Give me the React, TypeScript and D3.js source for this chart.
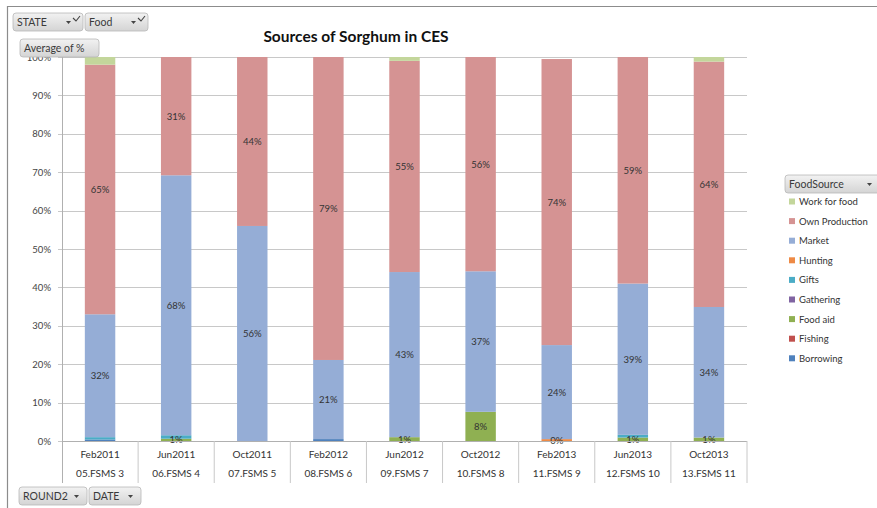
import React from "react";
import * as d3 from "d3";

// Survey rounds (two-level category axis)
const dates = ["Feb2011", "Jun2011", "Oct2011", "Feb2012", "Jun2012", "Oct2012", "Feb2013", "Jun2013", "Oct2013"];
const rounds = ["05.FSMS 3", "06.FSMS 4", "07.FSMS 5", "08.FSMS 6", "09.FSMS 7", "10.FSMS 8", "11.FSMS 9", "12.FSMS 10", "13.FSMS 11"];

// Stacking order, bottom to top
const sources = ["Borrowing", "Fishing", "Food aid", "Gathering", "Gifts", "Hunting", "Market", "Own Production", "Work for food"];
const sourceColors = ["#4F81BD", "#C0504D", "#8FB052", "#8064A2", "#4BACC6", "#EE8A45", "#95ADD6", "#D59393", "#C3D69B"];

// Average share (%) per source, one array per source, in round order
const borrowing = [0.4, 0, 0, 0.5, 0, 0, 0, 0, 0];
const fishing = [0, 0, 0, 0, 0, 0, 0, 0, 0];
const foodAid = [0, 0.6, 0, 0, 1.0, 7.6, 0, 0.9, 0.9];
const gathering = [0, 0, 0, 0, 0, 0, 0, 0, 0];
const gifts = [0.6, 0.9, 0, 0, 0, 0, 0, 0.7, 0];
const hunting = [0, 0, 0, 0, 0, 0, 0.49, 0, 0];
const market = [32.0, 67.7, 56.0, 20.6, 43.0, 36.6, 24.49, 39.4, 34.0];
const ownProduction = [65.0, 30.8, 44.0, 78.9, 55.0, 55.8, 74.49, 59.0, 63.9];
const workForFood = [2.0, 0, 0, 0, 1.0, 0, 0, 0, 1.2];

const seriesValues = [borrowing, fishing, foodAid, gathering, gifts, hunting, market, ownProduction, workForFood];
// Series that carry data labels
const labelledSeries = ["Food aid", "Hunting", "Market", "Own Production"];

const yTicks = [0, 10, 20, 30, 40, 50, 60, 70, 80, 90, 100];

const FONT = "Lato, 'Open Sans', sans-serif";

function FieldButton({ x, y, w, label, arrow = true, filter = false }: { x: number; y: number; w: number; label: string; arrow?: boolean; filter?: boolean }) {
  const h = 18;
  return (
    <g>
      <rect x={x} y={y} width={w} height={h} rx={3} fill="url(#btnGrad)" stroke="#b8b8b8" strokeWidth={0.8} />
      <text x={x + 4} y={y + 13} fontSize={10.5} fill="#3a3a3a" fontFamily={FONT}>{label}</text>
      {arrow && <path d={`M${x + w - (filter ? 17 : 13)},${y + 8} l5,0 l-2.5,3 z`} fill="#444" />}
      {filter && (
        <path d={`M${x + w - 10},${y + 5} l3,3 l4,-5`} fill="none" stroke="#444" strokeWidth={1.1} />
      )}
    </g>
  );
}

export default function App() {
  const width = 877;
  const height = 508;
  const x0 = 62, x1 = 747, yTop = 57, yBot = 441, axisBottom = 483;

  const x = d3.scaleBand<string>().domain(dates).range([x0, x1]).paddingInner(0.6).paddingOuter(0.3);
  const y = d3.scaleLinear().domain([0, 100]).range([yBot, yTop]);
  const step = x.step();

  const rows = dates.map((d, i) => {
    const r: Record<string, any> = { date: d };
    sources.forEach((s, k) => (r[s] = seriesValues[k][i]));
    return r;
  });
  const stacked = d3.stack<Record<string, any>>().keys(sources)(rows);

  const legendY0 = 202;
  const legendStep = 19.6;
  const legendOrder = [...sources].reverse();

  return (
    <svg width={width} height={height} style={{ position: "absolute", left: 0, top: 0 }}>
      <defs>
        <linearGradient id="btnGrad" x1="0" y1="0" x2="0" y2="1">
          <stop offset="0%" stopColor="#f2f2f2" />
          <stop offset="100%" stopColor="#d4d4d4" />
        </linearGradient>
      </defs>
      <rect width={width} height={height} fill="#ffffff" />
      {/* chart frame */}
      <line x1={7} y1={6.5} x2={width} y2={6.5} stroke="#8c8c8c" strokeWidth={1.2} />
      <line x1={7.5} y1={6} x2={7.5} y2={height} stroke="#8c8c8c" strokeWidth={1.2} />

      {/* gridlines */}
      {yTicks.map((t) => (
        <line key={t} x1={x0 - 4} x2={x1} y1={Math.round(y(t)) + 0.5} y2={Math.round(y(t)) + 0.5} stroke="#c8c8c8" strokeWidth={1} />
      ))}
      {yTicks.map((t) => (
        <text key={"l" + t} x={51} y={y(t) + 3.5} textAnchor="end" fontSize={9.5} fill="#444" fontFamily={FONT}>{t}%</text>
      ))}

      {/* bars */}
      {stacked.map((layer, k) => (
        <g key={layer.key} fill={sourceColors[k]}>
          {layer.map((seg, i) => {
            const h = y(seg[0]) - y(seg[1]);
            if (h <= 0) return null;
            return <rect key={i} x={x(dates[i])} y={y(seg[1])} width={x.bandwidth()} height={h} />;
          })}
        </g>
      ))}

      {/* data labels */}
      {stacked.map((layer, k) =>
        labelledSeries.includes(layer.key)
          ? layer.map((seg, i) => {
              const v = seriesValues[k][i];
              if (v <= 0) return null;
              return (
                <text
                  key={layer.key + i}
                  x={(x(dates[i]) as number) + x.bandwidth() / 2}
                  y={y((seg[0] + seg[1]) / 2) + 3.5}
                  textAnchor="middle"
                  fontSize={9.5}
                  fill="#333"
                  fontFamily={FONT}
                >
                  {Math.round(v)}%
                </text>
              );
            })
          : null
      )}

      {/* axes */}
      <line x1={x0 + 0.5} x2={x0 + 0.5} y1={yTop} y2={axisBottom} stroke="#b0b0b0" strokeWidth={1} />
      <line x1={x0} x2={x1} y1={yBot + 0.5} y2={yBot + 0.5} stroke="#b0b0b0" strokeWidth={1} />
      {dates.map((d, i) => (
        <line key={"sep" + i} x1={x0 + step * (i + 1)} x2={x0 + step * (i + 1)} y1={yBot} y2={axisBottom} stroke="#c8c8c8" strokeWidth={1} />
      ))}
      {dates.map((d, i) => (
        <g key={"cat" + i} fontFamily={FONT} fontSize={10} fill="#333" textAnchor="middle">
          <text x={x0 + step * (i + 0.5)} y={458}>{d}</text>
          <text x={x0 + step * (i + 0.5)} y={477}>{rounds[i]}</text>
        </g>
      ))}

      {/* title */}
      <text x={356} y={42} textAnchor="middle" fontSize={15.5} fontWeight="bold" fill="#111" fontFamily={FONT}>
        Sources of Sorghum in CES
      </text>

      {/* legend */}
      <FieldButton x={785} y={175} w={95} label="FoodSource" />
      {legendOrder.map((s, j) => {
        const k = sources.indexOf(s);
        const ly = legendY0 + j * legendStep;
        return (
          <g key={s}>
            <rect x={789} y={ly - 3.5} width={6} height={6} fill={sourceColors[k]} />
            <text x={799} y={ly + 3} fontSize={9.5} fill="#333" fontFamily={FONT}>{s}</text>
          </g>
        );
      })}

      {/* pivot field buttons */}
      <FieldButton x={13} y={13} w={70} label="STATE" filter />
      <FieldButton x={85} y={13} w={63} label="Food" filter />
      <FieldButton x={20} y={39} w={79} label="Average of %" arrow={false} />
      <FieldButton x={19} y={487} w={68} label="ROUND2" />
      <FieldButton x={89} y={487} w={52} label="DATE" />
    </svg>
  );
}
